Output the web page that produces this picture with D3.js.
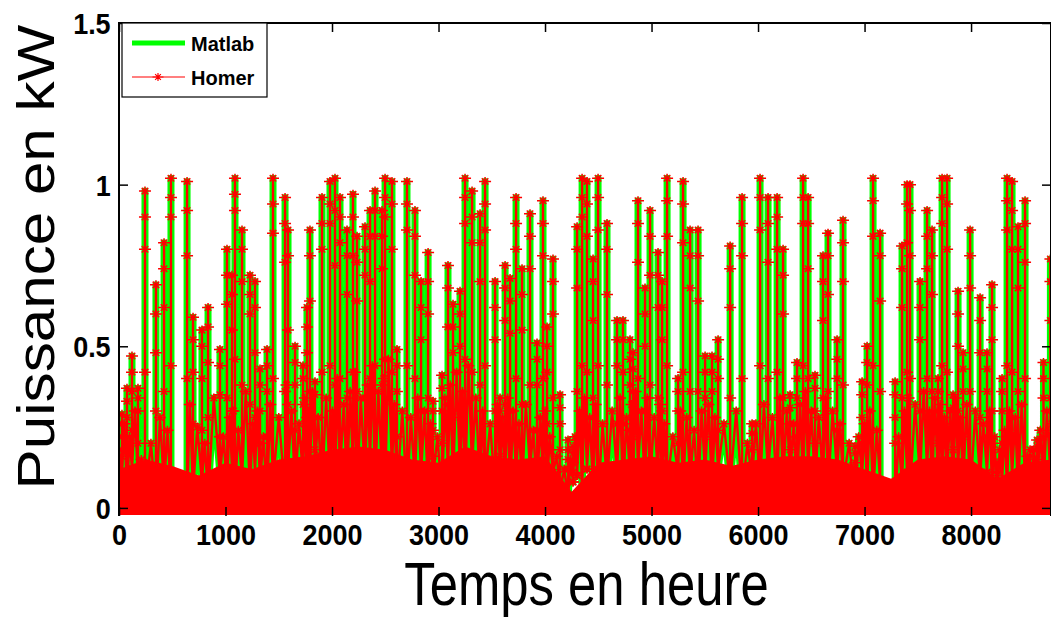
<!DOCTYPE html>
<html>
<head>
<meta charset="utf-8">
<script src="https://cdn.jsdelivr.net/npm/d3@7"></script>
<style>
  html, body { margin: 0; padding: 0; background: #ffffff; }
  svg { display: block; font-family: Arial, "Liberation Sans", Helvetica, sans-serif; }
</style>
</head>
<body>
<div id="chart"></div>
<script>
// ===== Data (hour of the year, power in kW) =====
// Matlab and Homer curves lie on top of each other, so both use these points

// each visible column: its hour, its top, a few values along it, and its foot
const spikeHours = [
    28, 75, 122, 178, 244, 347, 423, 488, 639, 695,
    779, 836, 948, 1014, 1061, 1089, 1155, 1230, 1277, 1324,
    1390, 1446, 1559, 1587, 1653, 1728, 1765, 1793, 1840, 1906,
    1981, 2028, 2075, 2141, 2197, 2235, 2310, 2357, 2404, 2470,
    2498, 2563, 2610, 2704, 2779, 2836, 2902, 2948, 3033, 3089,
    3136, 3202, 3249, 3315, 3390, 3437, 3531, 3578, 3625, 3672,
    3728, 3784, 3859, 3925, 3981, 4019, 4075, 4141, 4216, 4263,
    4301, 4348, 4394, 4451, 4498, 4582, 4676, 4732, 4798, 4826,
    4873, 4939, 4986, 5061, 5099, 5146, 5249, 5296, 5362, 5437,
    5503, 5568, 5625, 5738, 5850, 5944, 6019, 6094, 6179, 6235,
    6301, 6366, 6423, 6470, 6535, 6610, 6657, 6742, 6798, 6911,
    6977, 7024, 7080, 7146, 7287, 7352, 7399, 7427, 7521, 7587,
    7634, 7690, 7728, 7775, 7831, 7878, 7925, 7991, 8085, 8150,
    8197, 8244, 8291, 8338, 8385, 8441, 8507, 8554, 8620, 8680,
    8745
];
const spikeKW = [
    0.29, 0.37, 0.47, 0.37, 0.98, 0.69, 0.82, 1.02, 1.01, 0.59,
    0.55, 0.62, 0.49, 0.80, 0.72, 1.02, 0.86, 0.72, 0.70, 0.43,
    0.49, 1.02, 0.96, 0.86, 0.50, 0.44, 0.62, 0.86, 0.39, 0.96,
    1.01, 1.02, 0.96, 0.86, 0.97, 0.84, 0.87, 0.92, 0.98, 0.92,
    1.02, 1.01, 0.49, 1.01, 0.92, 0.70, 0.79, 0.33, 0.41, 0.75,
    0.63, 0.67, 1.02, 0.98, 0.91, 1.01, 0.70, 0.34, 0.75, 0.71,
    0.96, 0.74, 0.91, 0.51, 0.95, 0.56, 0.77, 0.35, 0.21, 0.19,
    0.87, 1.02, 1.01, 0.77, 1.02, 0.88, 0.58, 0.58, 0.52, 0.48,
    0.95, 0.68, 0.92, 0.79, 0.70, 1.02, 0.40, 1.01, 0.86, 0.86,
    0.47, 0.47, 0.52, 0.81, 0.96, 0.26, 1.02, 0.96, 0.96, 0.80,
    0.35, 0.45, 1.02, 0.96, 0.41, 0.78, 0.85, 0.52, 0.89, 0.19,
    0.39, 0.50, 1.02, 0.85, 0.39, 0.81, 1.00, 1.00, 0.70, 0.92,
    0.86, 0.40, 1.02, 1.02, 0.35, 0.67, 0.48, 0.86, 0.65, 0.48,
    0.69, 0.14, 0.40, 1.02, 1.01, 0.87, 0.95, 0.18, 0.21, 0.45,
    0.77
];
// value close under the top, on the way down
const upperKW = [
    0.26, 0.33, 0.42, 0.34, 0.90, 0.60, 0.74, 0.96, 0.92, 0.52,
    0.50, 0.56, 0.44, 0.72, 0.66, 0.97, 0.80, 0.66, 0.62, 0.38,
    0.44, 0.94, 0.88, 0.78, 0.45, 0.40, 0.56, 0.78, 0.35, 0.88,
    0.94, 0.92, 0.90, 0.78, 0.90, 0.76, 0.80, 0.84, 0.92, 0.84,
    0.96, 0.94, 0.44, 0.94, 0.84, 0.62, 0.70, 0.30, 0.37, 0.68,
    0.56, 0.60, 0.96, 0.90, 0.82, 0.94, 0.62, 0.30, 0.68, 0.64,
    0.88, 0.66, 0.84, 0.46, 0.88, 0.50, 0.70, 0.31, 0.18, 0.17,
    0.80, 0.96, 0.94, 0.70, 0.96, 0.80, 0.52, 0.52, 0.46, 0.43,
    0.88, 0.60, 0.84, 0.72, 0.62, 0.95, 0.36, 0.94, 0.78, 0.78,
    0.42, 0.42, 0.46, 0.74, 0.88, 0.23, 0.96, 0.88, 0.90, 0.72,
    0.31, 0.40, 0.96, 0.88, 0.37, 0.70, 0.78, 0.46, 0.82, 0.17,
    0.35, 0.45, 0.95, 0.78, 0.35, 0.74, 0.94, 0.92, 0.62, 0.84,
    0.78, 0.36, 0.96, 0.94, 0.31, 0.60, 0.43, 0.78, 0.58, 0.43,
    0.62, 0.12, 0.36, 0.95, 0.92, 0.80, 0.88, 0.16, 0.19, 0.40,
    0.70
];
// value part way up
const shoulderKW = [
    0.22, 0.28, 0.36, 0.30, 0.80, 0.48, 0.62, 0.90, 0.78, 0.42,
    0.40, 0.45, 0.35, 0.63, 0.55, 0.92, 0.70, 0.60, 0.48, 0.30,
    0.36, 0.85, 0.76, 0.55, 0.38, 0.32, 0.48, 0.64, 0.28, 0.80,
    0.88, 0.75, 0.82, 0.66, 0.78, 0.64, 0.72, 0.70, 0.84, 0.74,
    0.90, 0.80, 0.36, 0.86, 0.72, 0.52, 0.60, 0.24, 0.30, 0.56,
    0.48, 0.50, 0.88, 0.82, 0.70, 0.86, 0.52, 0.26, 0.58, 0.54,
    0.80, 0.55, 0.74, 0.38, 0.78, 0.42, 0.60, 0.26, 0.15, 0.14,
    0.68, 0.90, 0.84, 0.58, 0.86, 0.66, 0.44, 0.42, 0.38, 0.36,
    0.76, 0.50, 0.72, 0.62, 0.52, 0.84, 0.30, 0.82, 0.68, 0.64,
    0.34, 0.36, 0.40, 0.62, 0.78, 0.18, 0.86, 0.76, 0.80, 0.60,
    0.26, 0.34, 0.88, 0.74, 0.30, 0.58, 0.66, 0.40, 0.70, 0.14,
    0.28, 0.38, 0.84, 0.64, 0.28, 0.62, 0.82, 0.78, 0.52, 0.74,
    0.66, 0.30, 0.88, 0.80, 0.26, 0.50, 0.36, 0.68, 0.48, 0.36,
    0.52, 0.10, 0.30, 0.86, 0.80, 0.68, 0.76, 0.13, 0.15, 0.34,
    0.58
];
// value low on the way up
const lowerKW = [
    0.16, 0.20, 0.24, 0.20, 0.42, 0.30, 0.36, 0.44, 0.40, 0.26,
    0.24, 0.28, 0.22, 0.34, 0.30, 0.46, 0.38, 0.32, 0.28, 0.20,
    0.22, 0.40, 0.36, 0.32, 0.24, 0.20, 0.28, 0.36, 0.18, 0.42,
    0.44, 0.38, 0.40, 0.34, 0.42, 0.36, 0.34, 0.40, 0.44, 0.38,
    0.46, 0.42, 0.22, 0.44, 0.40, 0.30, 0.34, 0.16, 0.20, 0.32,
    0.28, 0.30, 0.46, 0.42, 0.38, 0.44, 0.30, 0.16, 0.32, 0.30,
    0.40, 0.32, 0.38, 0.24, 0.40, 0.26, 0.34, 0.18, 0.12, 0.11,
    0.36, 0.44, 0.42, 0.34, 0.44, 0.38, 0.26, 0.26, 0.24, 0.22,
    0.40, 0.30, 0.38, 0.34, 0.30, 0.44, 0.20, 0.42, 0.36, 0.36,
    0.22, 0.22, 0.24, 0.34, 0.40, 0.13, 0.44, 0.40, 0.42, 0.34,
    0.18, 0.22, 0.44, 0.40, 0.20, 0.34, 0.36, 0.24, 0.38, 0.11,
    0.20, 0.24, 0.44, 0.36, 0.20, 0.34, 0.42, 0.40, 0.30, 0.40,
    0.36, 0.20, 0.44, 0.42, 0.18, 0.30, 0.22, 0.36, 0.28, 0.22,
    0.30, 0.08, 0.20, 0.44, 0.42, 0.36, 0.40, 0.10, 0.11, 0.22,
    0.34
];
const baseKW = [
    0.10, 0.05, 0.12, 0.08, 0.03, 0.02, 0.06, 0.04, 0.00, 0.05,
    0.08, 0.03, 0.10, 0.06, 0.12, 0.04, 0.09, 0.05, 0.11, 0.07,
    0.03, 0.08, 0.05, 0.12, 0.06, 0.10, 0.04, 0.09, 0.13, 0.05,
    0.08, 0.04, 0.11, 0.06, 0.12, 0.03, 0.09, 0.14, 0.05, 0.10,
    0.06, 0.12, 0.04, 0.02, 0.08, 0.11, 0.05, 0.09, 0.03, 0.12,
    0.07, 0.10, 0.04, 0.13, 0.06, 0.09, 0.05, 0.11, 0.08, 0.03,
    0.10, 0.06, 0.12, 0.04, 0.09, 0.07, 0.11, 0.05, 0.03, 0.08,
    0.10, 0.05, 0.12, 0.06, 0.02, 0.08, 0.11, 0.04, 0.09, 0.06,
    0.12, 0.05, 0.08, 0.10, 0.04, 0.07, 0.11, 0.06, 0.09, 0.03,
    0.10, 0.05, 0.12, 0.07, 0.04, 0.09, 0.06, 0.11, 0.05, 0.08,
    0.10, 0.04, 0.07, 0.12, 0.06, 0.09, 0.05, 0.11, 0.08, 0.03,
    0.10, 0.06, 0.04, 0.08, 0.00, 0.07, 0.11, 0.05, 0.09, 0.12,
    0.04, 0.08, 0.06, 0.10, 0.05, 0.12, 0.07, 0.03, 0.09, 0.11,
    0.05, 0.02, 0.08, 0.06, 0.10, 0.04, 0.09, 0.03, 0.07, 0.05,
    0.10
];

// small bumps between the columns
const midHours = [
    0, 50, 100, 150, 210, 300, 385, 455, 600, 665,
    735, 805, 890, 980, 1040, 1075, 1120, 1190, 1255, 1300,
    1355, 1420, 1500, 1573, 1620, 1690, 1745, 1780, 1815, 1870,
    1945, 2005, 2050, 2110, 2170, 2215, 2270, 2335, 2380, 2435,
    2485, 2530, 2585, 2660, 2740, 2805, 2870, 2925, 2990, 3060,
    3110, 3170, 3225, 3280, 3350, 3415, 3485, 3555, 3600, 3650,
    3700, 3755, 3820, 3890, 3955, 4000, 4045, 4110, 4180, 4240,
    4282, 4325, 4370, 4420, 4475, 4540, 4630, 4705, 4765, 4812,
    4850, 4905, 4960, 5025, 5080, 5120, 5200, 5270, 5330, 5400,
    5470, 5535, 5595, 5680, 5795, 5900, 5980, 6055, 6135, 6205,
    6270, 6335, 6395, 6445, 6500, 6570, 6635, 6700, 6770, 6855,
    6945, 7000, 7050, 7115, 7215, 7320, 7375, 7413, 7475, 7555,
    7610, 7660, 7710, 7750, 7805, 7855, 7900, 7960, 8040, 8115,
    8175, 8220, 8268, 8315, 8360, 8415, 8475, 8530, 8590, 8650,
    8712, 8760
];
const midKW = [
    0.18, 0.26, 0.22, 0.30, 0.15, 0.20, 0.28, 0.24, 0.05, 0.32,
    0.25, 0.20, 0.34, 0.22, 0.28, 0.30, 0.24, 0.36, 0.26, 0.30,
    0.22, 0.32, 0.28, 0.38, 0.30, 0.26, 0.34, 0.30, 0.36, 0.28,
    0.34, 0.30, 0.40, 0.32, 0.36, 0.42, 0.34, 0.38, 0.44, 0.36,
    0.40, 0.46, 0.32, 0.30, 0.28, 0.34, 0.30, 0.26, 0.22, 0.34,
    0.38, 0.42, 0.36, 0.44, 0.34, 0.30, 0.26, 0.32, 0.28, 0.34,
    0.30, 0.26, 0.32, 0.24, 0.28, 0.30, 0.22, 0.16, 0.12, 0.15,
    0.22, 0.30, 0.34, 0.28, 0.32, 0.26, 0.30, 0.34, 0.28, 0.32,
    0.36, 0.30, 0.34, 0.28, 0.32, 0.26, 0.22, 0.30, 0.28, 0.24,
    0.30, 0.32, 0.28, 0.26, 0.30, 0.20, 0.26, 0.32, 0.28, 0.34,
    0.30, 0.26, 0.32, 0.36, 0.30, 0.28, 0.34, 0.30, 0.26, 0.20,
    0.22, 0.26, 0.30, 0.24, 0.06, 0.22, 0.30, 0.34, 0.32, 0.36,
    0.30, 0.34, 0.32, 0.28, 0.30, 0.34, 0.28, 0.32, 0.30, 0.26,
    0.30, 0.22, 0.18, 0.24, 0.30, 0.28, 0.32, 0.16, 0.18, 0.24,
    0.30, 0.26
];

// top of the solid mass of overlapping Homer markers near zero
const floorHours = [
    0, 250, 500, 750, 1000, 1250, 1500, 1750, 2000, 2250,
    2500, 2750, 3000, 3250, 3500, 3750, 4000, 4250, 4500, 4750,
    5000, 5250, 5500, 5750, 6000, 6250, 6500, 6750, 7000, 7250,
    7500, 7750, 8000, 8250, 8500, 8760
];
const floorKW = [
    0.12, 0.15, 0.13, 0.10, 0.14, 0.12, 0.15, 0.16, 0.18, 0.19,
    0.18, 0.15, 0.14, 0.19, 0.16, 0.15, 0.16, 0.05, 0.14, 0.15,
    0.16, 0.14, 0.15, 0.13, 0.15, 0.16, 0.16, 0.15, 0.12, 0.09,
    0.15, 0.16, 0.15, 0.09, 0.14, 0.15
];

// axis ticks and labels
const xTicks = [0, 1000, 2000, 3000, 4000, 5000, 6000, 7000, 8000];
const yTicks = [0, 0.5, 1, 1.5];
const seriesNames = ["Matlab", "Homer"];

// ===== Layout =====
const width = 1051;
const height = 617;
const plot = { left: 119, right: 1052, top: 23, bottom: 516 };

const green = "#00ff00";
const red = "#ff0000";

const x = d3.scaleLinear().domain([0, 8760]).range([plot.left, plot.right]);
const y = d3.scaleLinear().domain([-0.025, 1.5]).range([plot.bottom, plot.top]);

const svg = d3.select("#chart")
    .append("svg")
    .attr("width", width)
    .attr("height", height);

svg.append("defs").append("clipPath")
    .attr("id", "plotClip")
    .append("rect")
    .attr("x", plot.left)
    .attr("y", plot.top)
    .attr("width", plot.right - plot.left)
    .attr("height", plot.bottom - plot.top + 2);

// build the series in time order: bump, then the column (foot, up, top, down, foot)
const series = [];
spikeHours.forEach((h, i) => {
    series.push({ hour: midHours[i], kw: midKW[i] });
    series.push({ hour: h, kw: baseKW[i] });
    series.push({ hour: h, kw: lowerKW[i] });
    series.push({ hour: h, kw: shoulderKW[i] });
    series.push({ hour: h, kw: spikeKW[i] });
    series.push({ hour: h, kw: upperKW[i] });
    series.push({ hour: h, kw: baseKW[i] });
});
series.push({ hour: midHours[midHours.length - 1], kw: midKW[midKW.length - 1] });

const floor = floorHours.map((h, i) => ({ hour: h, kw: floorKW[i] }));

const line = d3.line()
    .x(d => x(d.hour))
    .y(d => y(d.kw));

// Matlab's '*' marker
function StarPath(size) {
    const s = size, d = size * 0.72;
    return `M${-s - 1.5},0L${s + 1.5},0M0,${-s}L0,${s}M${-d},${-d}L${d},${d}M${-d},${d}L${d},${-d}`;
}

const plotArea = svg.append("g").attr("clip-path", "url(#plotClip)");

// Matlab curve: thick green line
plotArea.append("path")
    .datum(series)
    .attr("d", line)
    .attr("fill", "none")
    .attr("stroke", green)
    .attr("stroke-width", 7)
    .attr("stroke-linejoin", "round")
    .attr("stroke-linecap", "round");

// Homer curve: dense marker mass near zero, red line and stars
plotArea.append("path")
    .datum(floor)
    .attr("d", d3.area()
        .x(d => x(d.hour))
        .y0(y(0) + 7)
        .y1(d => y(d.kw)))
    .attr("fill", red);

plotArea.append("path")
    .datum(series)
    .attr("d", line)
    .attr("fill", "none")
    .attr("stroke", red)
    .attr("stroke-width", 2.4);

plotArea.selectAll(".star")
    .data(series)
    .join("path")
    .attr("class", "star")
    .attr("transform", d => `translate(${x(d.hour)},${y(d.kw)})`)
    .attr("d", StarPath(4.5))
    .attr("fill", "none")
    .attr("stroke", red)
    .attr("stroke-width", 1.5);

// ===== Axes (Matlab style: box, ticks pointing inward) =====
const bottomAxis = svg.append("g")
    .attr("transform", `translate(0,${plot.bottom})`)
    .call(d3.axisBottom(x).tickValues(xTicks).tickSizeInner(-9).tickSizeOuter(0).tickPadding(8).tickFormat(d3.format("d")));

svg.append("g")
    .attr("transform", `translate(0,${plot.top})`)
    .call(d3.axisTop(x).tickValues(xTicks).tickSizeInner(-9).tickSizeOuter(0).tickFormat(""));

const leftAxis = svg.append("g")
    .attr("transform", `translate(${plot.left},0)`)
    .call(d3.axisLeft(y).tickValues(yTicks).tickSizeInner(-9).tickSizeOuter(0).tickPadding(9).tickFormat(d => d));

svg.append("g")
    .attr("transform", `translate(${plot.right - 1},0)`)
    .call(d3.axisRight(y).tickValues(yTicks).tickSizeInner(-9).tickSizeOuter(0).tickFormat(""));

svg.selectAll(".domain").remove();
svg.selectAll(".tick line").attr("stroke", "#000").attr("stroke-width", 1.5);

bottomAxis.selectAll("text")
    .attr("fill", "#000")
    .style("font-size", "29px")
    .style("font-weight", "bold")
    .attr("transform", "scale(0.93,1)");

leftAxis.selectAll("text")
    .attr("fill", "#000")
    .style("font-size", "29px")
    .style("font-weight", "bold")
    .attr("dy", "0.36em")
    .attr("transform", "scale(0.93,1)");

// axes box
svg.append("path")
    .attr("d", `M${plot.left},${plot.bottom}V${plot.top}H${plot.right - 1}V${plot.bottom}`)
    .attr("fill", "none")
    .attr("stroke", "#000")
    .attr("stroke-width", 2);

// ===== Axis titles =====
svg.append("text")
    .attr("transform", `translate(${(plot.left + plot.right) / 2 + 1},605) scale(0.82,1)`)
    .attr("text-anchor", "middle")
    .style("font-size", "62px")
    .text("Temps en heure");

svg.append("text")
    .attr("transform", `translate(54,257) rotate(-90) scale(1.18,1)`)
    .attr("text-anchor", "middle")
    .style("font-size", "51px")
    .text("Puissance en kW");

// ===== Legend =====
const legend = svg.append("g");

legend.append("rect")
    .attr("x", 122)
    .attr("y", 23)
    .attr("width", 145)
    .attr("height", 74)
    .attr("fill", "#fff")
    .attr("stroke", "#000")
    .attr("stroke-width", 1.2);

legend.append("line")
    .attr("x1", 132).attr("x2", 185)
    .attr("y1", 43).attr("y2", 43)
    .attr("stroke", green)
    .attr("stroke-width", 5);

legend.append("line")
    .attr("x1", 132).attr("x2", 185)
    .attr("y1", 77).attr("y2", 77)
    .attr("stroke", red)
    .attr("stroke-width", 1.2);

legend.append("path")
    .attr("transform", "translate(158,77)")
    .attr("d", StarPath(4))
    .attr("fill", "none")
    .attr("stroke", red)
    .attr("stroke-width", 1.2);

legend.selectAll(".legend-label")
    .data(seriesNames)
    .join("text")
    .attr("class", "legend-label")
    .attr("x", 191)
    .attr("y", (d, i) => 51 + i * 34)
    .style("font-size", "20px")
    .style("font-weight", "bold")
    .text(d => d);
</script>
</body>
</html>
